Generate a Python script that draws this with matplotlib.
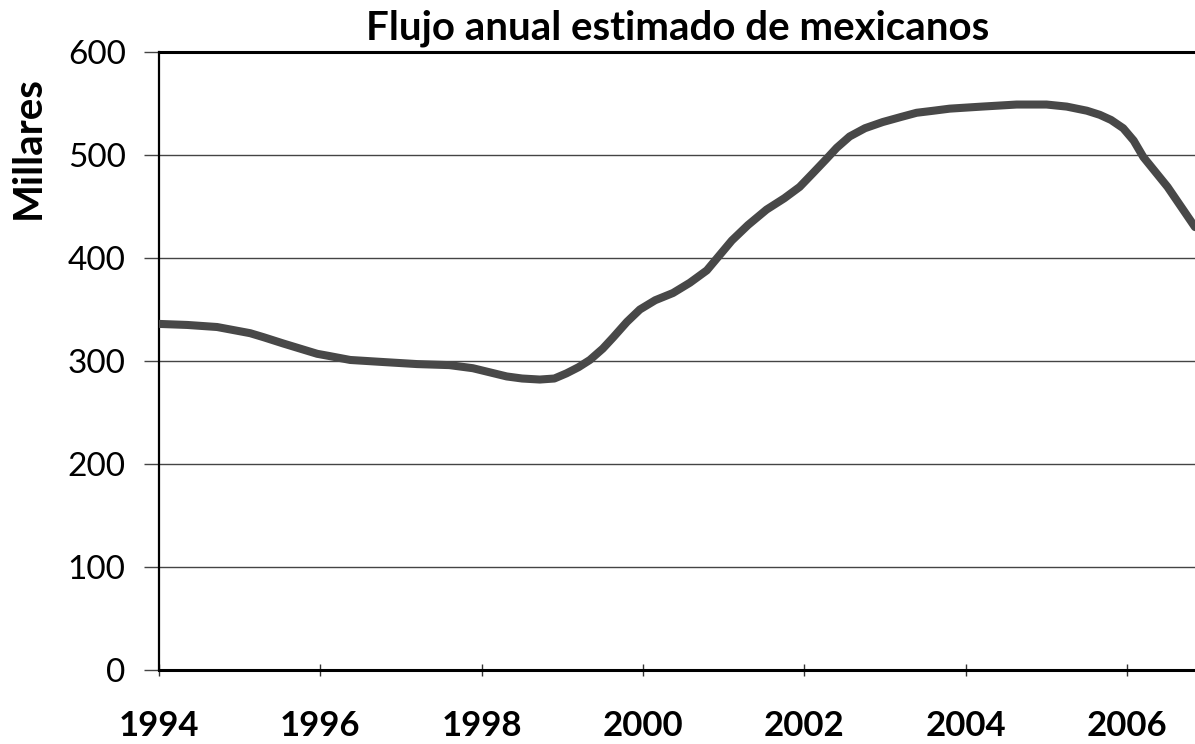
import matplotlib
matplotlib.use("Agg")
import matplotlib.pyplot as plt

# valores (miles de personas)
anios = [1994.0, 1994.35, 1994.72, 1995.13, 1995.3, 1995.54, 1995.75, 1995.96,
         1996.1, 1996.37, 1996.78, 1997.2, 1997.6, 1997.89, 1998.1, 1998.31,
         1998.5, 1998.72, 1998.9, 1999.05, 1999.2, 1999.34, 1999.5, 1999.63,
         1999.8, 1999.96, 2000.15, 2000.37, 2000.58, 2000.79, 2001.1, 2001.3,
         2001.53, 2001.75, 2001.94, 2002.1, 2002.27, 2002.4, 2002.56, 2002.75,
         2002.97, 2003.2, 2003.39, 2003.6, 2003.8, 2004.2, 2004.63, 2005.0,
         2005.25, 2005.5, 2005.66, 2005.8, 2005.95, 2006.08, 2006.2, 2006.5,
         2006.84]
flujo = [336, 335, 333, 327, 323, 317, 312, 307,
         305, 301, 299, 297, 296, 293, 289, 285,
         283, 282, 283, 288, 294, 301, 312, 323,
         338, 350, 359, 366, 376, 388, 417, 432,
         447, 458, 469, 482, 496, 507, 518, 526,
         532, 537, 541, 543, 545, 547, 549, 549,
         547, 543, 539, 534, 526, 514, 498, 469,
         430]

xticks = [1994, 1996, 1998, 2000, 2002, 2004, 2006]
yticks = [0, 100, 200, 300, 400, 500, 600]

plt.rcParams['font.family'] = ['Lato', 'DejaVu Sans']

fig = plt.figure(figsize=(11.95, 7.44), dpi=100)
ax = fig.add_axes([159 / 1195, 1 - 670 / 744, 1 - 159 / 1195, (670 - 52) / 744])

ax.plot(anios, flujo, color='#484848', lw=5.8, solid_capstyle='round',
        solid_joinstyle='round', zorder=3)

ax.set_xlim(1994, 2006.84)
ax.set_ylim(0, 600)
ax.set_xticks(xticks)
ax.set_xticklabels([str(a) for a in xticks], fontsize=25, fontweight='bold')
ax.set_yticks(yticks)
ax.set_yticklabels([str(v) for v in yticks], fontsize=24)

ax.grid(axis='y', color='#444444', lw=1.0)
ax.tick_params(axis='y', length=11, width=1.0, color='#444444', pad=13)
ax.tick_params(axis='x', direction='inout', length=9, width=1.0, color='#333333', pad=24)

for lado in ['left', 'bottom', 'top']:
    ax.spines[lado].set_color('black')
ax.spines['left'].set_linewidth(1.6)
ax.spines['bottom'].set_linewidth(2.2)
ax.spines['top'].set_linewidth(2.2)
ax.spines['right'].set_visible(False)

fig.text(678 / 1195, 1 - 28 / 744, 'Flujo anual estimado de mexicanos',
         ha='center', va='center', fontsize=29, fontweight='bold')
fig.text(28 / 1195, 1 - 148 / 744, 'Millares', rotation=90,
         ha='center', va='center', fontsize=29, fontweight='bold')

fig.savefig('out.png', dpi=100)
